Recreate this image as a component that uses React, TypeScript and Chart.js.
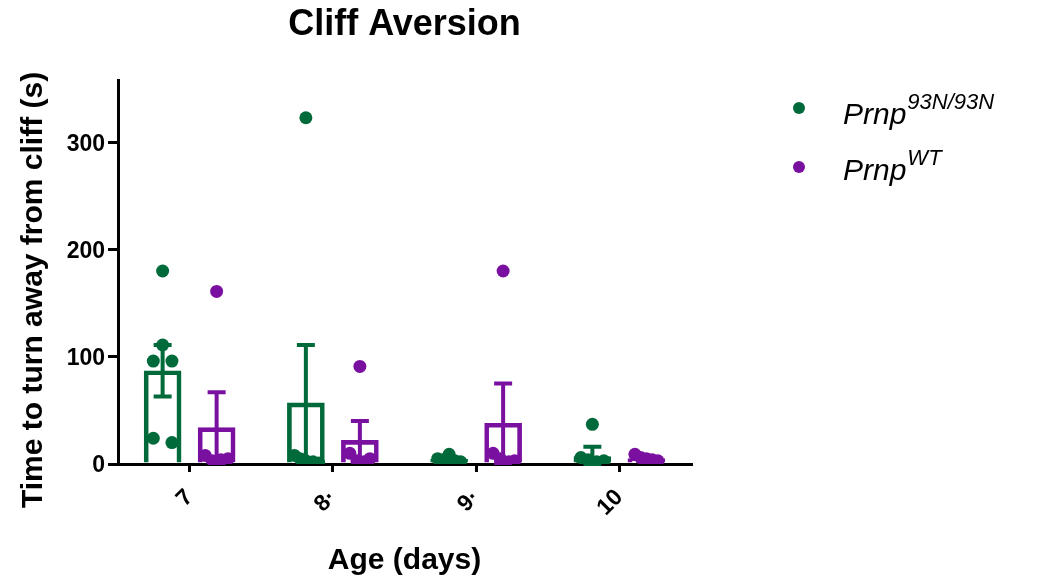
import React, { useEffect, useRef } from 'react';
import { Chart, registerables } from 'chart.js';

Chart.register(...registerables);

// ---- data ----
const categories = ['7', '8·', '9·', '10'];
const seriesBase = ['Prnp', 'Prnp'];
const seriesSup = ['93N/93N', 'WT'];

const mutMeans = [87, 57, 4.5, 7];
const mutSem = [24, 54, 1, 9];
const wtMeans = [34, 22, 38, 5];
const wtSem = [33, 18, 37, 1];

const mutPoints = [
  [180, 111, 96, 96, 24, 20],
  [323, 8, 5, 3, 2, 1],
  [5, 9, 4, 3, 2, 4],
  [37, 6, 4, 2, 3, 1],
];
const wtPoints = [
  [161, 8, 3, 4, 5],
  [91, 10, 5, 3, 2],
  [180, 10, 5, 2, 3],
  [9, 6, 5, 4, 3],
];

const yTicks = [0, 100, 200, 300];
const yMax = 358;

// horizontal spread of dots around each bar (category units)
const mutJitter = [
  [0, 0, -0.065, 0.065, -0.065, 0.065],
  [0, -0.08, -0.04, 0, 0.05, 0.09],
  [-0.08, 0.0, -0.04, 0.04, 0.08, -0.01],
  [0, -0.08, -0.03, 0.03, 0.08, 0.0],
];
const wtJitter = [
  [0, -0.08, -0.03, 0.03, 0.08],
  [0, -0.07, 0.07, -0.02, 0.03],
  [0, -0.07, -0.02, 0.04, 0.08],
  [-0.08, -0.04, 0, 0.04, 0.08],
];

const GREEN = '#006a3a';
const PURPLE = '#7a10a0';
const FONT = '"Liberation Sans", Arial, Helvetica, sans-serif';
const BAR_OFFSET = 0.1885; // bar centre distance from category centre
const BAR_PX = 37;

function barData(means: number[], side: number) {
  return means.map((m, i) => ({ x: i + side * BAR_OFFSET, y: m }));
}

function pointsFor(groups: number[][], jitter: number[][], side: number) {
  const out: { x: number; y: number }[] = [];
  groups.forEach((vals, i) => {
    vals.forEach((v, k) => {
      out.push({ x: i + side * BAR_OFFSET + jitter[i][k], y: v });
    });
  });
  return out;
}

const errorBarPlugin = {
  id: 'errorBars',
  beforeDatasetsDraw(chart: any) {
    const { ctx } = chart;
    const y = chart.scales.y;
    const sets = [
      { idx: 0, means: mutMeans, sem: mutSem, color: GREEN },
      { idx: 1, means: wtMeans, sem: wtSem, color: PURPLE },
    ];
    ctx.save();
    sets.forEach((s) => {
      const meta = chart.getDatasetMeta(s.idx);
      meta.data.forEach((bar: any, i: number) => {
        const x = bar.x;
        const top = y.getPixelForValue(s.means[i] + s.sem[i]);
        const bot = y.getPixelForValue(Math.max(0, s.means[i] - s.sem[i]));
        ctx.strokeStyle = s.color;
        ctx.lineWidth = 4;
        ctx.beginPath();
        ctx.moveTo(x, top);
        ctx.lineTo(x, bot);
        ctx.moveTo(x - 9, top);
        ctx.lineTo(x + 9, top);
        ctx.moveTo(x - 9, bot);
        ctx.lineTo(x + 9, bot);
        ctx.stroke();
      });
    });
    ctx.restore();
  },
};

const extrasPlugin = {
  id: 'extras',
  afterDraw(chart: any) {
    const { ctx } = chart;
    ctx.save();
    // y axis title
    ctx.translate(42, 508);
    ctx.rotate(-Math.PI / 2);
    ctx.fillStyle = '#000';
    ctx.font = `bold 30px ${FONT}`;
    ctx.textAlign = 'left';
    ctx.textBaseline = 'alphabetic';
    ctx.fillText('Time to turn away from cliff (s)', 0, 0);
    ctx.restore();

    // legend
    const rows = [
      { color: GREEN, dotY: 108, base: 124 },
      { color: PURPLE, dotY: 167, base: 180 },
    ];
    ctx.save();
    rows.forEach((r, i) => {
      ctx.fillStyle = r.color;
      ctx.beginPath();
      ctx.arc(799, r.dotY, 6, 0, Math.PI * 2);
      ctx.fill();
      ctx.fillStyle = '#000';
      ctx.textAlign = 'left';
      ctx.textBaseline = 'alphabetic';
      ctx.font = `italic 30px ${FONT}`;
      ctx.fillText(seriesBase[i], 843, r.base);
      const w = ctx.measureText(seriesBase[i]).width;
      ctx.font = `italic 22px ${FONT}`;
      ctx.fillText(seriesSup[i], 843 + w + 1, r.base - 15);
    });
    ctx.restore();
  },
};

export default function App() {
  const ref = useRef<HTMLCanvasElement>(null);

  useEffect(() => {
    document.body.style.margin = '0';
    const canvas = ref.current;
    if (!canvas) return;
    const chart = new Chart(canvas, {
      type: 'bar',
      data: {
        datasets: [
          {
            type: 'bar',
            label: 'Prnp 93N/93N',
            data: barData(mutMeans, -1),
            borderColor: GREEN,
            backgroundColor: 'rgba(0,0,0,0)',
            borderWidth: 4,
            grouped: false,
            barThickness: BAR_PX,
            order: 3,
          },
          {
            type: 'bar',
            label: 'Prnp WT',
            data: barData(wtMeans, 1),
            borderColor: PURPLE,
            backgroundColor: 'rgba(0,0,0,0)',
            borderWidth: 4,
            grouped: false,
            barThickness: BAR_PX,
            order: 3,
          },
          {
            type: 'scatter',
            label: 'pts mut',
            data: pointsFor(mutPoints, mutJitter, -1),
            backgroundColor: GREEN,
            borderColor: GREEN,
            pointRadius: 6.5,
            borderWidth: 0,
            showLine: false,
            order: 1,
          },
          {
            type: 'scatter',
            label: 'pts wt',
            data: pointsFor(wtPoints, wtJitter, 1),
            backgroundColor: PURPLE,
            borderColor: PURPLE,
            pointRadius: 6.5,
            borderWidth: 0,
            showLine: false,
            order: 1,
          },
        ] as any,
      },
      options: {
        responsive: false,
        animation: false,
        layout: { padding: { left: 0, right: 351, top: 0, bottom: 0 } },
        plugins: {
          legend: { display: false },
          tooltip: { enabled: false },
          title: {
            display: true,
            text: 'Cliff Aversion',
            color: '#000',
            fullSize: false,
            font: { family: FONT, size: 36, weight: 'bold' },
            padding: { top: 3, bottom: 34 },
          },
        },
        scales: {
          x: {
            type: 'linear',
            min: -0.5,
            max: 3.5,
            offset: false,
            afterBuildTicks(scale: any) {
              scale.ticks = categories.map((_, i) => ({ value: i }));
            },
            grid: {
              display: true,
              drawOnChartArea: false,
              drawTicks: true,
              tickLength: 8,
              lineWidth: 3,
              color: '#000',
              offset: false,
            },
            border: { display: true, color: '#000', width: 3 },
            ticks: {
              color: '#000',
              autoSkip: false,
              font: { family: FONT, size: 23, weight: 'bold' },
              minRotation: 45,
              maxRotation: 45,
              padding: 12,
              callback: (v: any) => categories[Math.round(Number(v))] ?? '',
            },
            title: {
              display: true,
              text: 'Age (days)',
              color: '#000',
              font: { family: FONT, size: 30, weight: 'bold' },
              padding: { top: 0, bottom: 1 },
            },
            afterFit(scale: any) {
              scale.height = 116;
            },
          },
          y: {
            type: 'linear',
            min: 0,
            max: yMax,
            afterBuildTicks(scale: any) {
              scale.ticks = yTicks.map((v) => ({ value: v }));
            },
            grid: {
              display: true,
              drawOnChartArea: false,
              drawTicks: true,
              tickLength: 10,
              lineWidth: 3,
              color: '#000',
            },
            border: { display: true, color: '#000', width: 3 },
            ticks: {
              color: '#000',
              font: { family: FONT, size: 23, weight: 'bold' },
              padding: 3,
              labelOffset: 2,
            },
            afterFit(scale: any) {
              scale.width = 118;
            },
          },
        },
      } as any,
      plugins: [errorBarPlugin, extrasPlugin],
    });
    return () => chart.destroy();
  }, []);

  return (
    <div style={{ width: 1042, height: 580 }}>
      <canvas ref={ref} width={1042} height={580} />
    </div>
  );
}
